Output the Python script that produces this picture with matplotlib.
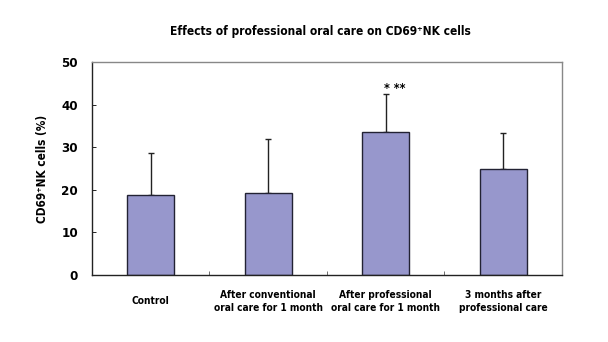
import numpy as np
import matplotlib
matplotlib.use('Agg')
import matplotlib.pyplot as plt

plt.rcParams['font.family'] = ['DejaVu Sans']
plt.rcParams['font.stretch'] = 'condensed'
plt.rcParams['font.weight'] = 'bold'

groups = ['Control', 'After conventional\noral care for 1 month',
          'After professional\noral care for 1 month', '3 months after\nprofessional care']
means = [18.8, 19.2, 33.5, 24.9]
sd = [9.8, 12.7, 9.0, 8.4]
yticks = [0, 10, 20, 30, 40, 50]

fig = plt.figure(figsize=(6.08, 3.42), dpi=100)
ax = fig.add_axes([0.1513, 0.1959, 0.7730, 0.6228])

x = np.arange(len(groups))
ax.bar(x, means, width=0.4, color='#9797cc', edgecolor='#222233', linewidth=1.0, zorder=2)
ax.errorbar(x, means, yerr=[np.zeros(len(sd)), sd], fmt='none', ecolor='#222222',
            elinewidth=1.0, capsize=2.5, capthick=1.0, zorder=1)

ax.set_xlim(-0.5, 3.5)
ax.set_ylim(0, 50)
ax.set_yticks(yticks)
ax.set_yticklabels([str(t) for t in yticks], fontsize=9.5, fontweight='bold')
ax.tick_params(axis='y', direction='in', length=3, width=0.6, pad=10)

ax.set_xticks(x)
ax.set_xticklabels(groups, fontsize=7.3, fontweight='bold', linespacing=1.4)
for lab in ax.get_xticklabels():
    lab.set_verticalalignment('center')
ax.tick_params(axis='x', which='major', length=0, pad=19)
ax.set_xticks([0.5, 1.5, 2.5], minor=True)
ax.tick_params(axis='x', which='minor', direction='in', length=3, width=0.6, color='#555555')

for s in ['top', 'right']:
    ax.spines[s].set_color('#888888')
    ax.spines[s].set_linewidth(1.0)
for s in ['left', 'bottom']:
    ax.spines[s].set_color('#222222')
    ax.spines[s].set_linewidth(1.0)

ax.set_ylabel('CD69\u207aNK cells (%)', fontsize=8.5, fontweight='bold', labelpad=9)
ax.text(2.08, means[2] + sd[2] - 0.2, '* **', ha='center', va='bottom', fontsize=9, fontweight='bold')

fig.text(0.527, 0.907, 'Effects of professional oral care on CD69\u207aNK cells',
         ha='center', va='center', fontsize=8.6, fontweight='bold')

fig.savefig('out.png', dpi=100)
